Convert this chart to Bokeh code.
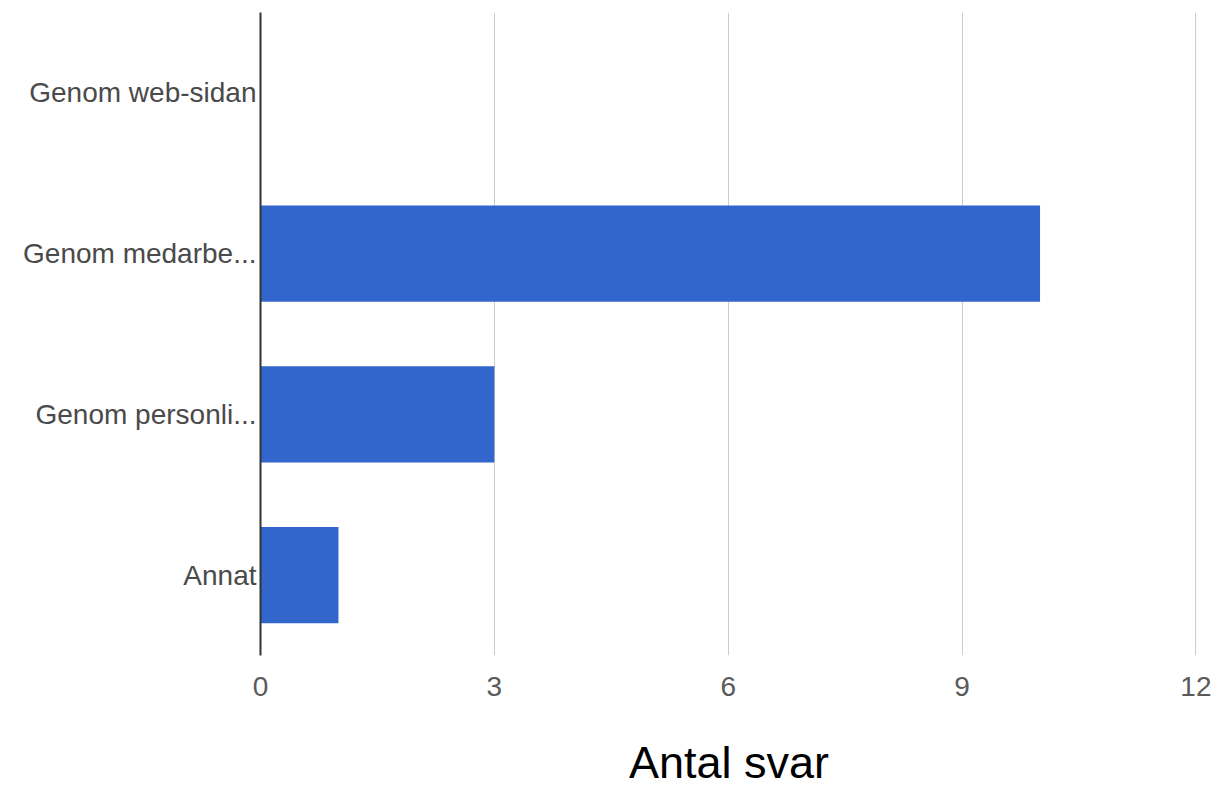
from bokeh.plotting import figure
from bokeh.models import FactorRange, Range1d, FixedTicker, ColumnDataSource
from bokeh.embed import file_html
from bokeh.resources import INLINE

categories = ["Genom web-sidan", "Genom medarbe...", "Genom personli...", "Annat"]
values = [0, 10, 3, 1]
x_ticks = [0, 3, 6, 9, 12]
x_label = "Antal svar"

src = ColumnDataSource(dict(cat=categories, val=values))

p = figure(
    y_range=FactorRange(*reversed(categories), range_padding=0),
    x_range=Range1d(0, 12.02),
    frame_width=937, frame_height=643,
    min_border_left=260, min_border_right=18, min_border_top=12, min_border_bottom=4,
    output_backend="svg", toolbar_location=None,
)
p.outline_line_color = None
p.background_fill_color = "white"
p.border_fill_color = "white"

p.hbar(y="cat", right="val", left=0, height=0.6, source=src,
       fill_color="#3366cc", line_color=None)

p.xaxis.ticker = FixedTicker(ticks=x_ticks)
p.xaxis.axis_line_color = None
p.xaxis.major_tick_line_color = None
p.xaxis.minor_tick_line_color = None
p.xaxis.major_label_text_font = "Liberation Sans"
p.xaxis.major_label_text_font_size = "28px"
p.xaxis.major_label_text_color = "#5a5a5a"
p.xaxis.major_label_standoff = 15
p.xaxis.axis_label = x_label
p.xaxis.axis_label_text_font = "Liberation Sans"
p.xaxis.axis_label_text_font_size = "45px"
p.xaxis.axis_label_text_font_style = "normal"
p.xaxis.axis_label_text_color = "black"
p.xaxis.axis_label_standoff = 38

p.yaxis.axis_line_color = "#333333"
p.yaxis.axis_line_width = 2
p.yaxis.major_tick_line_color = None
p.yaxis.minor_tick_line_color = None
p.yaxis.major_label_text_font = "Liberation Sans"
p.yaxis.major_label_text_font_size = "28px"
p.yaxis.major_label_text_color = "#4a4a4a"
p.yaxis.major_label_standoff = -2

p.ygrid.grid_line_color = None
p.xgrid.grid_line_color = "#cccccc"
p.xgrid.grid_line_width = 1

open("out.html", "w").write(file_html(p, INLINE))
